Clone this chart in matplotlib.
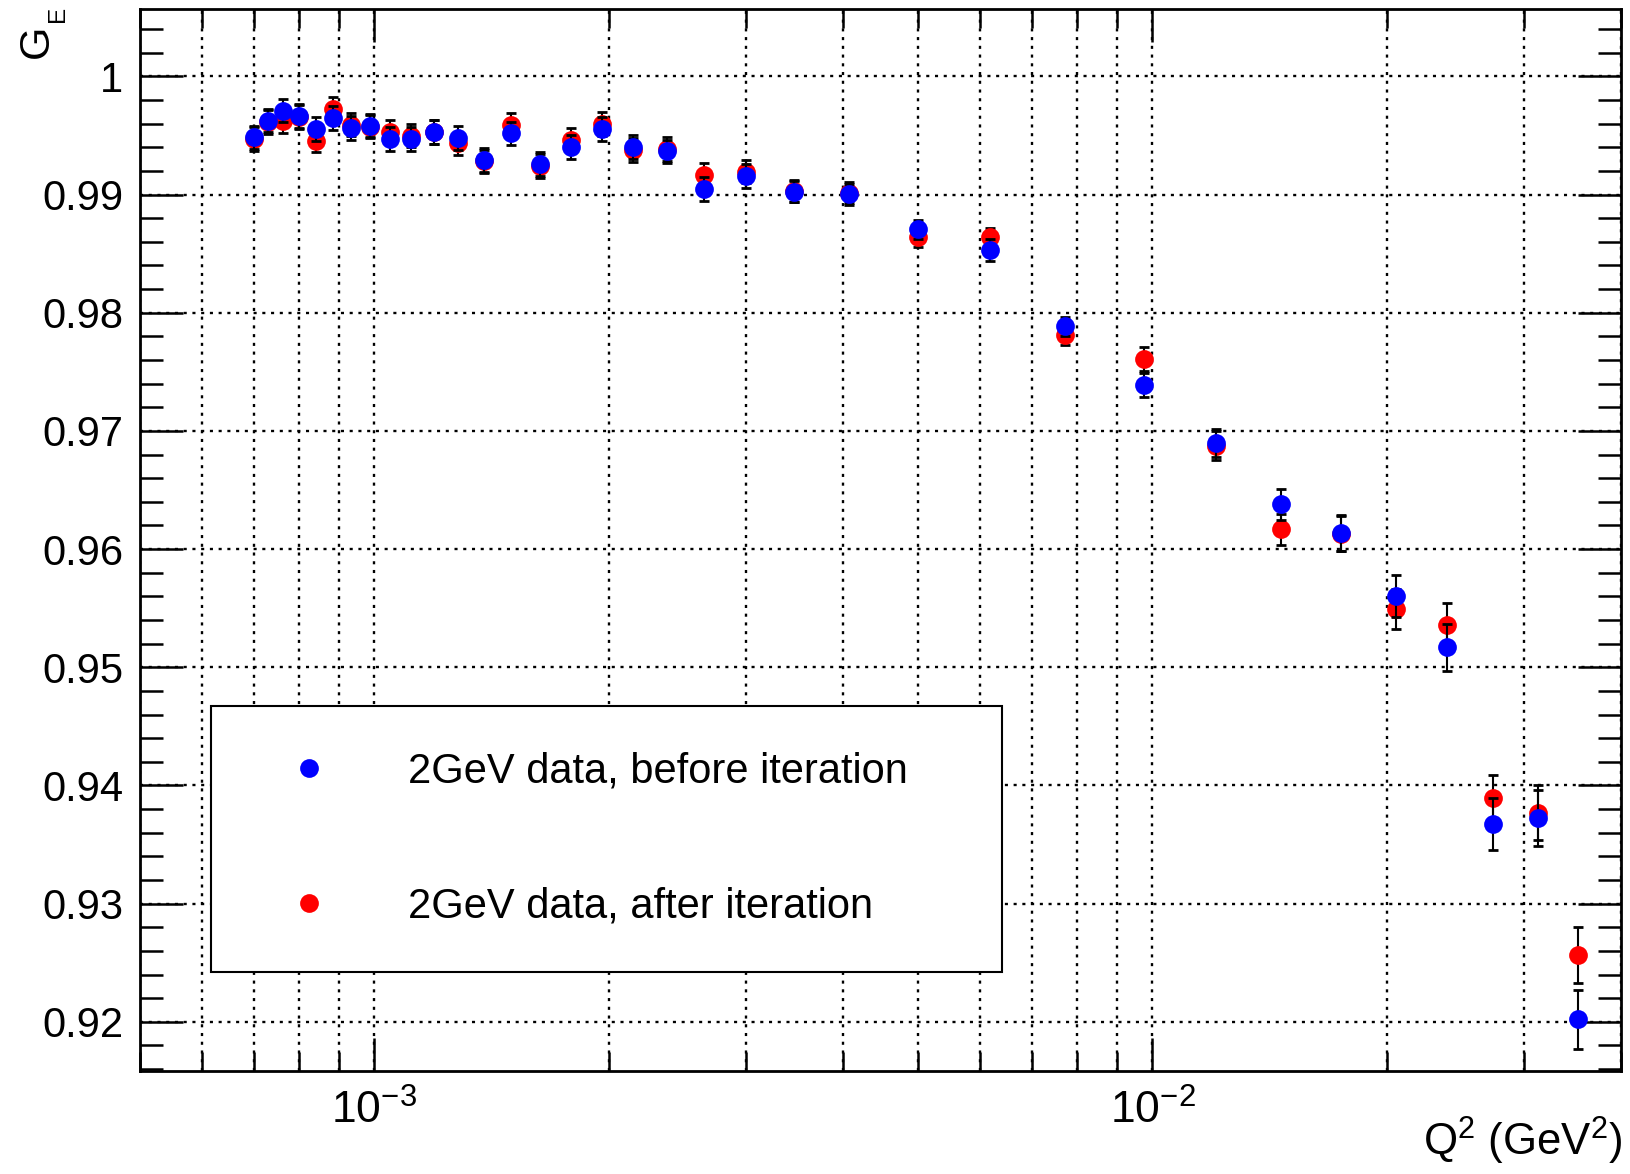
import matplotlib
matplotlib.use("Agg")
import matplotlib.pyplot as plt
from matplotlib.lines import Line2D
from matplotlib.ticker import MultipleLocator, FuncFormatter, LogLocator, LogFormatterSciNotation, NullFormatter

plt.rcParams['font.family'] = ['Liberation Sans', 'DejaVu Sans']
plt.rcParams['mathtext.fontset'] = 'custom'
plt.rcParams['mathtext.rm'] = 'Liberation Sans'
plt.rcParams['mathtext.it'] = 'Liberation Sans:italic'
plt.rcParams['mathtext.bf'] = 'Liberation Sans:bold'

# ---- data ----
q2 = [7.00e-4, 7.31e-4, 7.64e-4, 8.01e-4, 8.41e-4, 8.85e-4, 9.33e-4, 9.86e-4,
      1.047e-3, 1.115e-3, 1.193e-3, 1.281e-3, 1.382e-3, 1.498e-3, 1.633e-3,
      1.788e-3, 1.960e-3, 2.150e-3, 2.375e-3, 2.652e-3, 3.000e-3, 3.459e-3,
      4.080e-3, 5.000e-3, 6.190e-3, 7.720e-3, 9.740e-3, 1.206e-2, 1.464e-2,
      1.748e-2, 2.056e-2, 2.388e-2, 2.740e-2, 3.125e-2, 3.527e-2]

ge_before = [0.99484, 0.99626, 0.99711, 0.99663, 0.99555, 0.99649, 0.99561, 0.99584,
             0.99470, 0.99470, 0.99527, 0.99476, 0.99292, 0.99518, 0.99258,
             0.99405, 0.99555, 0.99400, 0.99365, 0.99045, 0.99159, 0.99023,
             0.99003, 0.98705, 0.98532, 0.97887, 0.97390, 0.96898, 0.96378,
             0.96135, 0.95605, 0.95169, 0.93670, 0.93726, 0.92023]
err_before = [0.0010, 0.0010, 0.0010, 0.0010, 0.0010, 0.0010, 0.0010, 0.0010,
              0.0010, 0.0010, 0.0010, 0.0010, 0.0010, 0.0010, 0.0010,
              0.0010, 0.0010, 0.0010, 0.0010, 0.0010, 0.0010, 0.0009,
              0.0009, 0.0008, 0.0009, 0.0008, 0.0010, 0.0012, 0.0013,
              0.0015, 0.0018, 0.0020, 0.0022, 0.0024, 0.0025]

ge_after = [0.99470, 0.99615, 0.99620, 0.99654, 0.99456, 0.99725, 0.99592, 0.99575,
            0.99527, 0.99499, 0.99527, 0.99433, 0.99280, 0.99592, 0.99244,
            0.99462, 0.99598, 0.99377, 0.99385, 0.99167, 0.99195, 0.99031,
            0.99017, 0.98640, 0.98638, 0.97808, 0.97610, 0.96876, 0.96169,
            0.96130, 0.95492, 0.95360, 0.93890, 0.93770, 0.92566]
err_after = [0.0010, 0.0010, 0.0010, 0.0010, 0.0010, 0.0010, 0.0010, 0.0010,
             0.0010, 0.0010, 0.0010, 0.0010, 0.0010, 0.0010, 0.0010,
             0.0010, 0.0010, 0.0010, 0.0010, 0.0010, 0.0010, 0.0009,
             0.0009, 0.0008, 0.0008, 0.0008, 0.0010, 0.0012, 0.0013,
             0.0015, 0.0017, 0.0018, 0.0020, 0.0023, 0.0024]

label_before = "2GeV data, before iteration"
label_after = "2GeV data, after iteration"

# ---- figure ----
W, H = 1631, 1174
fig = plt.figure(figsize=(W / 100, H / 100), dpi=100)
ax = fig.add_axes([0.08584, 0.08731, 0.90803, 0.90502])

ms = 13.5
ax.errorbar(q2, ge_after, yerr=err_after, fmt='none', ecolor='black',
            elinewidth=1.5, capsize=3.3, capthick=2, zorder=3)
ax.plot(q2, ge_after, 'o', color='red', markersize=ms, markeredgewidth=0, zorder=4)
ax.errorbar(q2, ge_before, yerr=err_before, fmt='none', ecolor='black',
            elinewidth=1.5, capsize=3.3, capthick=2, zorder=5)
ax.plot(q2, ge_before, 'o', color='blue', markersize=ms, markeredgewidth=0, zorder=6)

ax.set_xscale('log')
ax.set_xlim(5e-4, 0.04)
ax.set_ylim(0.9158, 1.0057)

ax.xaxis.set_major_locator(LogLocator(base=10))
ax.xaxis.set_minor_locator(LogLocator(base=10, subs=range(2, 10)))
ax.xaxis.set_major_formatter(LogFormatterSciNotation())
ax.xaxis.set_minor_formatter(NullFormatter())
ax.yaxis.set_major_locator(MultipleLocator(0.01))
ax.yaxis.set_minor_locator(MultipleLocator(0.002))
ax.yaxis.set_major_formatter(FuncFormatter(lambda v, p: f"{v:g}"))

ax.tick_params(which='both', direction='in', top=True, right=True,
               width=1.8, colors='black')
ax.tick_params(axis='y', which='major', length=31, pad=12, labelsize=30)
ax.tick_params(axis='y', which='minor', length=16.5)
ax.tick_params(axis='x', which='major', length=24, pad=13, labelsize=32)
ax.tick_params(axis='x', which='minor', length=14)

for sp in ax.spines.values():
    sp.set_linewidth(2)

grid_kw = dict(color='black', linestyle=(0, (1.3, 2.4)), linewidth=1.7)
ax.grid(True, axis='x', which='both', **grid_kw)
ax.grid(True, axis='y', which='major', **grid_kw)
ax.set_axisbelow(True)

handles = [Line2D([], [], marker='o', color='blue', linestyle='none',
                  markersize=ms, markeredgewidth=0),
           Line2D([], [], marker='o', color='red', linestyle='none',
                  markersize=ms, markeredgewidth=0)]
leg = ax.legend(handles, [label_before, label_after],
                bbox_to_anchor=(0.0479, 0.0946, 0.534, 0.2494), loc='upper left',
                mode='expand', fontsize=30, frameon=True, fancybox=False,
                framealpha=1, edgecolor='black', borderpad=1.1, labelspacing=2.27,
                handlelength=2.5, handletextpad=1.12, numpoints=1,
                borderaxespad=0)
leg.get_frame().set_linewidth(1.5)
leg.set_zorder(10)

# y-axis title G_E (ROOT style, rotated, at top)
fig.text(48 / W, 1 - 58 / H, "G", rotation=90, rotation_mode='anchor',
         ha='left', va='baseline', fontsize=31)
fig.text(64 / W, 1 - 22 / H, "E", rotation=90, rotation_mode='anchor',
         ha='left', va='baseline', fontsize=17.5)
# x-axis title
fig.text(1622 / W, 1 - 1156 / H, r"Q$^{2}$ (GeV$^{2}$)", ha='right',
         va='baseline', fontsize=31.5)

fig.savefig("out.png", dpi=100)
